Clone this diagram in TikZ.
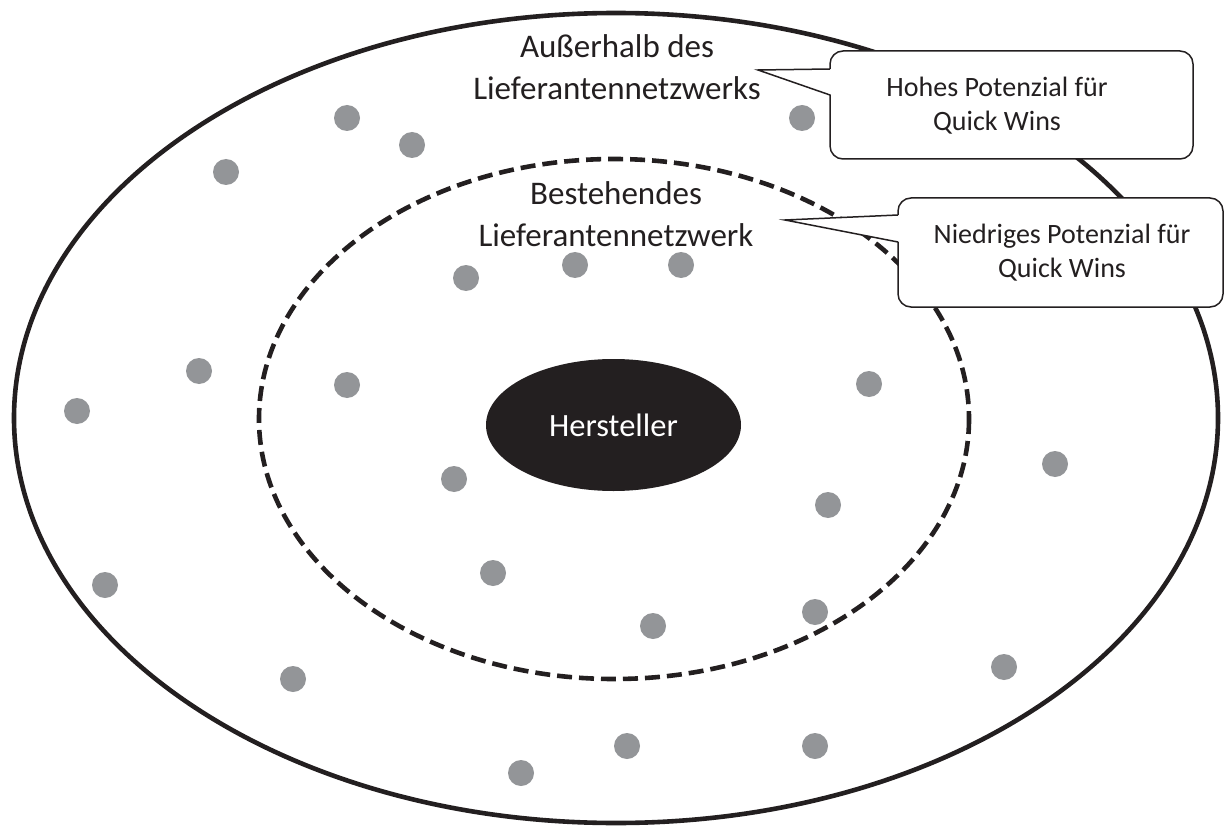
\documentclass[tikz,border=0pt]{standalone}
\usepackage{fontspec}
\setmainfont{Carlito}
\usetikzlibrary{shapes.geometric}
\definecolor{ink}{HTML}{231F20}
\definecolor{dotgray}{HTML}{939598}
\begin{document}
\begin{tikzpicture}[x=1pt,y=-1pt,
  supplier/.style={circle,fill=dotgray,minimum size=26pt,inner sep=0pt},
  ring/.style={draw=ink,line width=4.6pt},
  callbox/.style={draw=ink,fill=white,line width=1.5pt,rounded corners=13pt,inner sep=0pt},
  calltext/.style={align=center,font=\fontsize{28}{34}\selectfont,text=ink,anchor=base},
  zonelabel/.style={align=center,font=\fontsize{33}{42}\selectfont,text=ink,anchor=base},
  pointer/.style={draw=ink,line width=1.5pt,line join=miter}
]
\useasboundingbox (0,0) rectangle (1225,826);

% outer zone and existing supplier network
\draw[ring] (616,418) ellipse [x radius=602, y radius=405];
\draw[ring, dash pattern=on 15pt off 7pt] (614,419) ellipse [x radius=355, y radius=260];

% manufacturer in the centre
\node[ellipse, fill=ink, minimum width=255pt, minimum height=132pt, inner sep=0pt,
      text=white, font=\fontsize{32.5}{38}\selectfont] (maker) at (613.5,425) {Hersteller};

% suppliers
\foreach \x/\y [count=\i] in {347/118, 412/145, 226/172, 802/118, 466/278, 575/265,
    681/265, 199/371, 77/411, 347/385, 869/384, 1055/464, 454/479, 828/505,
    105/585, 493/573, 653/626, 815/612, 293/679, 1004/667, 627/746, 815/746, 521/773}
  \node[supplier] (s\i) at (\x,\y) {};

% zone labels (anchored on the baseline of the last line)
\node[zonelabel] (outerlbl) at (617,100) {Außerhalb des\\Lieferantennetzwerks};
\node[zonelabel] (innerlbl) at (616,247) {Bestehendes\\Lieferantennetzwerk};

% callout: high potential
\node[callbox, minimum width=363pt, minimum height=108pt] (highbox) at (1011.5,105) {};
\coordinate (hightip) at (758,70);
\coordinate (higha) at (830,69);
\coordinate (highb) at (830,95);
\fill[white] (hightip) -- ([xshift=2pt]higha) -- ([xshift=2pt]highb) -- cycle;
\draw[pointer] (higha) -- (hightip) -- (highb);
\node[calltext] (hightxt) at (997,131) {Hohes Potenzial für\\Quick Wins};

% callout: low potential
\node[callbox, minimum width=325pt, minimum height=109pt] (lowbox) at (1060.5,252.5) {};
\coordinate (lowtip) at (785,220);
\coordinate (lowa) at (898,215);
\coordinate (lowb) at (898,242);
\fill[white] (lowtip) -- ([xshift=2pt]lowa) -- ([xshift=2pt]lowb) -- cycle;
\draw[pointer] (lowa) -- (lowtip) -- (lowb);
\node[calltext] (lowtxt) at (1062,277) {Niedriges Potenzial für\\Quick Wins};
\end{tikzpicture}
\end{document}
